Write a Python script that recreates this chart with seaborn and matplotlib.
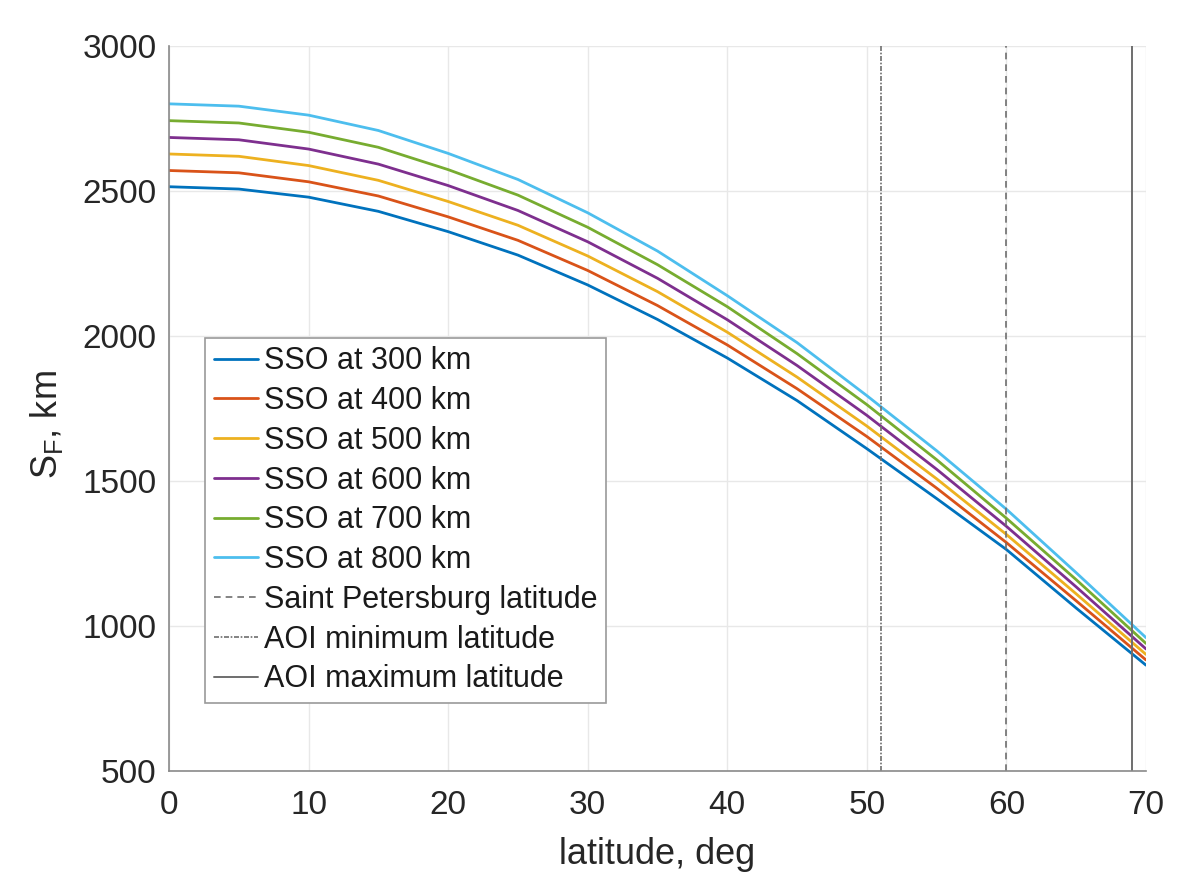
import matplotlib
matplotlib.use("Agg")
import matplotlib.pyplot as plt
import seaborn as sns
import pandas as pd

# ---- data ----
latitude = [0, 5, 10, 15, 20, 25, 30, 35, 40, 45, 50, 55, 60, 65, 70]
sso_300 = [2516, 2508, 2480, 2431, 2361, 2280, 2177, 2058, 1925, 1778, 1612, 1440, 1264, 1062, 865]
sso_400 = [2572, 2564, 2533, 2484, 2412, 2331, 2227, 2106, 1970, 1819, 1654, 1476, 1288, 1087, 883]
sso_500 = [2629, 2621, 2589, 2538, 2465, 2383, 2277, 2154, 2014, 1859, 1690, 1508, 1316, 1111, 902]
sso_600 = [2686, 2678, 2646, 2594, 2520, 2434, 2326, 2200, 2057, 1899, 1727, 1541, 1344, 1135, 921]
sso_700 = [2744, 2736, 2704, 2652, 2575, 2487, 2376, 2247, 2102, 1940, 1764, 1574, 1372, 1160, 940]
sso_800 = [2802, 2794, 2763, 2710, 2631, 2541, 2426, 2294, 2140, 1978, 1795, 1605, 1403, 1184, 960]
series_labels = ["SSO at 300 km", "SSO at 400 km", "SSO at 500 km",
                 "SSO at 600 km", "SSO at 700 km", "SSO at 800 km"]
spb_lat = 60.0
aoi_min_lat = 51.0
aoi_max_lat = 69.0
x_ticks = [0, 10, 20, 30, 40, 50, 60, 70]
y_ticks = [500, 1000, 1500, 2000, 2500, 3000]

colors = ["#0072BD", "#D95319", "#EDB120", "#7E2F8E", "#77AC30", "#4DBEEE"]

rows = []
for lab, vals in zip(series_labels, [sso_300, sso_400, sso_500, sso_600, sso_700, sso_800]):
    for x, v in zip(latitude, vals):
        rows.append({"latitude": x, "S": v, "series": lab})
df = pd.DataFrame(rows)

sns.set_style("white")
plt.rcParams["font.family"] = ["Liberation Sans", "DejaVu Sans"]
plt.rcParams["mathtext.default"] = "regular"

fig = plt.figure(figsize=(11.93, 8.75), dpi=100)
ax = fig.add_axes([0.1417, 0.1189, 0.8189, 0.828])

sns.lineplot(data=df, x="latitude", y="S", hue="series", hue_order=series_labels,
             palette=colors, linewidth=2.0, ax=ax, legend=False, sort=False)

ax.axvline(spb_lat, color="#6e6e6e", linestyle=(0, (4, 3)), linewidth=1.2,
           label="Saint Petersburg latitude")
ax.axvline(aoi_min_lat, color="#6e6e6e", linestyle=(0, (3, 1, 1, 1)), linewidth=1.2,
           label="AOI minimum latitude")
ax.axvline(aoi_max_lat, color="#6e6e6e", linestyle="-", linewidth=1.4,
           label="AOI maximum latitude")

ax.set_xlim(0, 70)
ax.set_ylim(500, 3000)
ax.set_xticks(x_ticks)
ax.set_yticks(y_ticks)
ax.grid(True, color="#e8e8e8", linewidth=1.0)
ax.set_axisbelow(True)

for s in ["top", "right"]:
    ax.spines[s].set_visible(False)
for s in ["left", "bottom"]:
    ax.spines[s].set_color("#8a8a8a")
    ax.spines[s].set_linewidth(1.2)

ax.tick_params(axis="both", direction="in", length=6, width=1.0, color="#8a8a8a",
               labelsize=24, labelcolor="#262626")
ax.tick_params(axis="x", pad=14)
ax.tick_params(axis="y", pad=9)

ax.set_xlabel("latitude, deg", fontsize=26, color="#262626", labelpad=11)
ax.set_ylabel("S$_F$, km", fontsize=26, color="#262626")
ax.yaxis.set_label_coords(-0.107, 0.478)

handles = [plt.Line2D([], [], color=c, linewidth=2.0) for c in colors]
vh, vl = ax.get_legend_handles_labels()
leg = ax.legend(handles + vh, series_labels + vl, loc="upper left",
                bbox_to_anchor=(0.037, 0.598), borderaxespad=0, fontsize=22,
                frameon=True, fancybox=False, edgecolor="#9a9a9a", framealpha=1,
                handlelength=1.45, handletextpad=0.2, labelspacing=0.32,
                borderpad=0.28)
leg.get_frame().set_linewidth(1.2)
for t in leg.get_texts():
    t.set_color("#1a1a1a")

fig.savefig("out.png", dpi=100)
